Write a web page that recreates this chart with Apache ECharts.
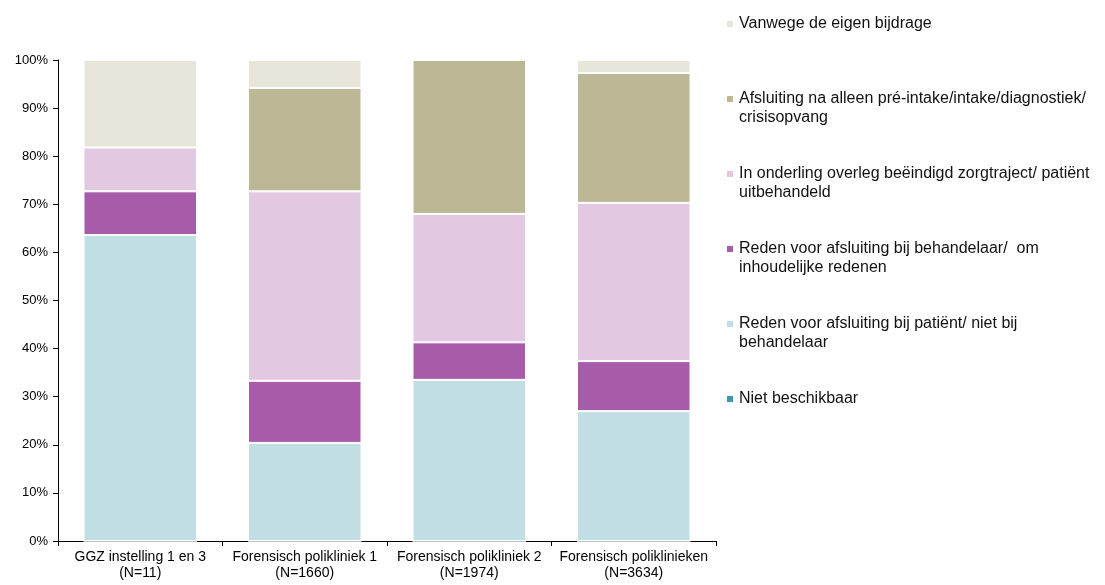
<!DOCTYPE html>
<html><head><meta charset="utf-8">
<script src="https://cdn.jsdelivr.net/npm/echarts@6/dist/echarts.min.js"></script>
<style>html,body{margin:0;padding:0;background:#fff}#c{width:1105px;height:585px}</style>
</head><body><div id="c"></div>
<script>
const categories = ['GGZ instelling 1 en 3\n(N=11)', 'Forensisch polikliniek 1\n(N=1660)', 'Forensisch polikliniek 2\n(N=1974)', 'Forensisch poliklinieken\n(N=3634)'];
const yTicks = [0, 10, 20, 30, 40, 50, 60, 70, 80, 90, 100];
const nietBeschikbaar = [0, 0, 0, 0];
const redenPatient = [63.6, 20.4, 33.5, 27.0];
const redenBehandelaar = [9.1, 12.9, 7.8, 10.4];
const overleg = [9.1, 39.4, 26.7, 32.9];
const afsluitingIntake = [0, 21.5, 32.0, 27.0];
const eigenBijdrage = [18.2, 5.8, 0, 2.7];

const seriesDefs = [
  {name: 'Niet beschikbaar', data: nietBeschikbaar, color: '#3B9BA8', legend: 'Niet beschikbaar', lines: 1, y: 399},
  {name: 'Reden voor afsluiting bij patiënt/ niet bij behandelaar', data: redenPatient, color: '#C0DEE3', legend: 'Reden voor afsluiting bij patiënt/ niet bij\nbehandelaar', lines: 2, y: 324},
  {name: 'Reden voor afsluiting bij behandelaar/ om inhoudelijke redenen', data: redenBehandelaar, color: '#A85BA8', legend: 'Reden voor afsluiting bij behandelaar/  om\ninhoudelijke redenen', lines: 2, y: 249},
  {name: 'In onderling overleg beëindigd zorgtraject/ patiënt uitbehandeld', data: overleg, color: '#E3C8E2', legend: 'In onderling overleg beëindigd zorgtraject/ patiënt\nuitbehandeld', lines: 2, y: 174},
  {name: 'Afsluiting na alleen pré-intake/intake/diagnostiek/ crisisopvang', data: afsluitingIntake, color: '#BCB794', legend: 'Afsluiting na alleen pré-intake/intake/diagnostiek/\ncrisisopvang', lines: 2, y: 99},
  {name: 'Vanwege de eigen bijdrage', data: eigenBijdrage, color: '#E8E6DA', legend: 'Vanwege de eigen bijdrage', lines: 1, y: 24}
];

const LH = 19;
const FONT = 'Arial, "Liberation Sans", sans-serif';
const legends = seriesDefs.map(s => {
  const nLines = s.lines === 2 ? 3 : 1;
  const boxH = nLines * LH;
  const txt = s.lines === 2 ? '\n' + s.legend : s.legend;
  return {
    orient: 'vertical', left: 725, top: s.y - boxH / 2, padding: 0,
    itemWidth: 8, itemHeight: 8, icon: 'rect',
    selectedMode: false,
    data: [s.name],
    formatter: () => txt,
    textStyle: {fontFamily: FONT, fontSize: 16, color: '#111', lineHeight: LH}
  };
});

const chart = echarts.init(document.getElementById('c'), null, {renderer: 'canvas'});
chart.setOption({
  animation: false,
  backgroundColor: '#fff',
  legend: legends,
  grid: {left: 58, right: 389, top: 60, bottom: 44, containLabel: false},
  xAxis: {
    type: 'category', data: categories, boundaryGap: true,
    axisLine: {show: true, lineStyle: {color: '#000', width: 1}},
    axisTick: {show: true, alignWithLabel: false, length: 5, lineStyle: {color: '#000'}},
    axisLabel: {interval: 0, fontFamily: FONT, fontSize: 14, color: '#000', lineHeight: 16, margin: 8}
  },
  yAxis: {
    type: 'value', min: yTicks[0], max: yTicks[yTicks.length - 1], interval: 10,
    axisLine: {show: true, lineStyle: {color: '#000', width: 1}},
    axisTick: {show: true, length: 5, lineStyle: {color: '#000'}},
    splitLine: {show: false},
    axisLabel: {formatter: '{value}%', fontFamily: FONT, fontSize: 13, color: '#000', margin: 10}
  },
  series: seriesDefs.map(s => ({
    name: s.name, type: 'bar', stack: 'total', data: s.data, barWidth: '69%',
    itemStyle: {color: s.color, borderColor: '#fff', borderWidth: 1}
  }))
});
</script></body></html>
